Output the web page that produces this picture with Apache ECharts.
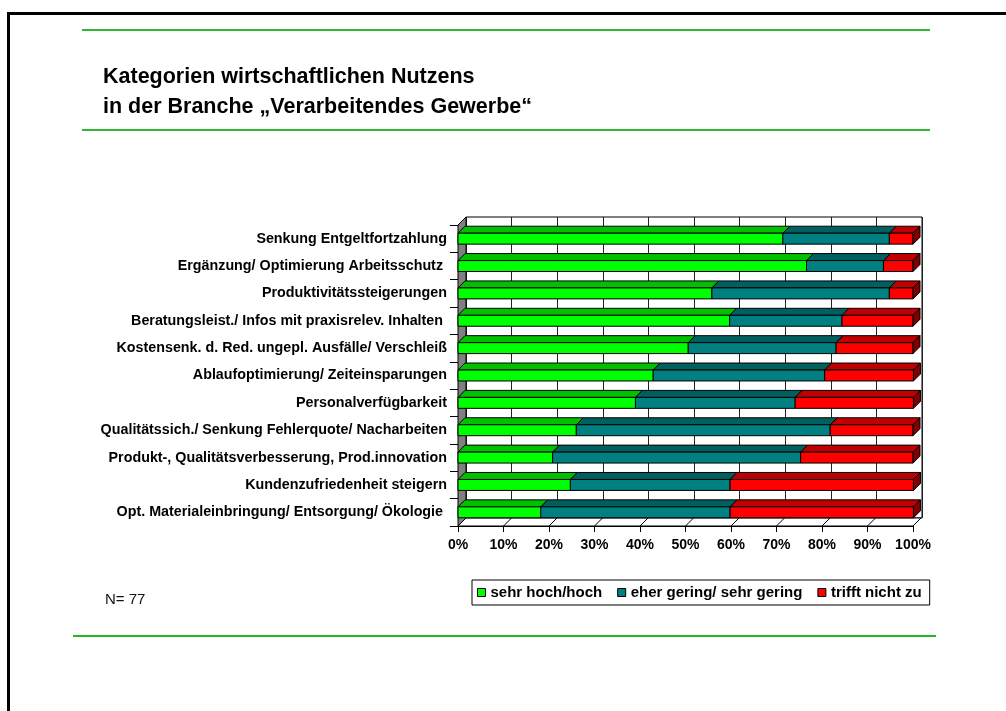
<!DOCTYPE html>
<html>
<head>
<meta charset="utf-8">
<script src="https://cdn.jsdelivr.net/npm/echarts@6/dist/echarts.min.js"></script>
<style>
  html, body { margin: 0; padding: 0; background: #fff; }
  #chart { width: 1006px; height: 711px; }
</style>
</head>
<body>
<div id="chart"></div>
<script>
var categories = [
  'Senkung Entgeltfortzahlung',
  'Ergänzung/ Optimierung Arbeitsschutz ',
  'Produktivitätssteigerungen',
  'Beratungsleist./ Infos mit praxisrelev. Inhalten ',
  'Kostensenk. d. Red. ungepl. Ausfälle/ Verschleiß',
  'Ablaufoptimierung/ Zeiteinsparungen',
  'Personalverfügbarkeit',
  'Qualitätssich./ Senkung Fehlerquote/ Nacharbeiten',
  'Produkt-, Qualitätsverbesserung, Prod.innovation',
  'Kundenzufriedenheit steigern',
  'Opt. Materialeinbringung/ Entsorgung/ Ökologie '
]
var hochValues = [71.4, 76.6, 55.8, 59.7, 50.6, 42.9, 39.0, 26.0, 20.8, 24.7, 18.2]
var geringValues = [23.4, 16.9, 39.0, 24.7, 32.5, 37.7, 35.1, 55.8, 54.5, 35.1, 41.6]
var nichtValues = [5.2, 6.5, 5.2, 15.6, 16.9, 19.5, 26.0, 18.2, 24.7, 40.3, 40.3]
var pctTicks = [0, 10, 20, 30, 40, 50, 60, 70, 80, 90, 100]

var seriesNames = ['sehr hoch/hoch', 'eher gering/ sehr gering', 'trifft nicht zu']
var frontColors = ['#00ff00', '#008080', '#ff0000']
var topColors = ['#00c000', '#006060', '#c00000']
var sideColors = ['#008000', '#004040', '#800000']

var DEPTH = 7
var WALL = 8
var font = 'Liberation Sans, Arial, sans-serif'

var chart = echarts.init(document.getElementById('chart'))

// stacked segments: [start, end, categoryIndex]
function buildStack(all) {
  var out = all.map(function () { return [] })
  categories.forEach(function (c, j) {
    var acc = 0
    all.forEach(function (vals, i) {
      out[i].push([acc, acc + vals[j], j])
      acc += vals[j]
    })
  })
  return out
}
var stacks = buildStack([hochValues, geringValues, nichtValues])

function barRenderer(idx) {
  return function (params, api) {
    var s = api.coord([api.value(0), api.value(2)])
    var e = api.coord([api.value(1), api.value(2)])
    var h = api.size([0, 1])[1] * 0.4
    var x0 = s[0], x1 = e[0]
    var yT = s[1] - h / 2, yB = s[1] + h / 2
    var stroke = { stroke: '#000', lineWidth: 1 }
    var children = [
      {
        type: 'polygon',
        shape: { points: [[x0, yT], [x1, yT], [x1 + DEPTH, yT - DEPTH], [x0 + DEPTH, yT - DEPTH]] },
        style: Object.assign({ fill: topColors[idx] }, stroke)
      },
      {
        type: 'rect',
        shape: { x: x0, y: yT, width: x1 - x0, height: yB - yT },
        style: Object.assign({ fill: frontColors[idx] }, stroke)
      }
    ]
    if (idx === 2) {
      children.push({
        type: 'polygon',
        shape: { points: [[x1, yT], [x1 + DEPTH, yT - DEPTH], [x1 + DEPTH, yB - DEPTH], [x1, yB]] },
        style: Object.assign({ fill: sideColors[idx] }, stroke)
      })
    }
    return { type: 'group', children: children }
  }
}

// left side wall + floor of the 3d plot
function renderWalls(params, api) {
  var cs = params.coordSys
  var left = cs.x, top = cs.y, bottom = cs.y + cs.height, right = cs.x + cs.width
  var children = [
    {
      type: 'polygon',
      shape: { points: [[left, bottom], [left, top], [left + WALL, top - WALL], [left + WALL, bottom - WALL]] },
      style: { fill: '#808080', stroke: '#000', lineWidth: 1 }
    },
    {
      type: 'polygon',
      shape: { points: [[left, bottom], [right, bottom], [right + WALL, bottom - WALL], [left + WALL, bottom - WALL]] },
      style: { fill: '#fff', stroke: '#000', lineWidth: 1 }
    }
  ]
  pctTicks.forEach(function (v) {
    var x = api.coord([v, 0])[0]
    children.push({
      type: 'line',
      shape: { x1: x, y1: bottom, x2: x + WALL, y2: bottom - WALL },
      style: { stroke: '#000', lineWidth: 1 }
    })
  })
  return { type: 'group', children: children }
}

var series = [
  {
    name: 'walls',
    type: 'custom',
    xAxisIndex: 0,
    yAxisIndex: 0,
    renderItem: renderWalls,
    data: [[0, 0]],
    silent: true,
    z: 1
  }
]
seriesNames.forEach(function (name, i) {
  series.push({
    name: name,
    type: 'custom',
    xAxisIndex: 0,
    yAxisIndex: 0,
    renderItem: barRenderer(i),
    encode: { x: [0, 1], y: 2 },
    itemStyle: { color: frontColors[i] },
    data: stacks[i],
    z: 3
  })
})

chart.setOption({
  animation: false,
  backgroundColor: '#fff',
  title: {
    text: 'Kategorien wirtschaftlichen Nutzens\nin der Branche „Verarbeitendes Gewerbe“',
    left: 98,
    top: 57,
    textStyle: {
      fontFamily: font,
      fontSize: 21.5,
      fontWeight: 'bold',
      color: '#000',
      lineHeight: 30
    }
  },
  legend: {
    data: seriesNames.map(function (n, i) {
      return { name: n, icon: 'rect', itemStyle: { color: frontColors[i], borderColor: '#000', borderWidth: 1 } }
    }),
    left: 472,
    top: 580,
    orient: 'horizontal',
    itemWidth: 8,
    itemHeight: 8,
    itemGap: 15,
    padding: [5, 8, 5, 5],
    borderColor: '#000',
    borderWidth: 1,
    textStyle: { fontFamily: font, fontSize: 15, fontWeight: 'bold', color: '#000' }
  },
  grid: [
    // front axes
    { left: 458, right: 93, top: 225, bottom: 185, containLabel: false },
    // back wall
    {
      left: 466, right: 84, top: 217, bottom: 193, show: true,
      backgroundColor: '#fff', borderColor: '#000', borderWidth: 1
    }
  ],
  xAxis: [
    {
      gridIndex: 0,
      type: 'value',
      min: 0,
      max: 100,
      interval: 10,
      axisLine: { show: true, lineStyle: { color: '#000', width: 1 } },
      axisTick: { show: true, length: 6, lineStyle: { color: '#000' } },
      splitLine: { show: false },
      axisLabel: {
        formatter: '{value}%',
        margin: 12,
        fontFamily: font,
        fontSize: 14,
        fontWeight: 'bold',
        color: '#000'
      }
    },
    {
      gridIndex: 1,
      type: 'value',
      min: 0,
      max: 100,
      interval: 10,
      axisLine: { show: false },
      axisTick: { show: false },
      axisLabel: { show: false },
      splitLine: { show: true, lineStyle: { color: '#222', width: 1 } }
    }
  ],
  yAxis: [
    {
      gridIndex: 0,
      type: 'category',
      data: categories,
      inverse: true,
      axisLine: { show: true, lineStyle: { color: '#000', width: 1 } },
      axisTick: { show: true, length: 8, lineStyle: { color: '#000' } },
      splitLine: { show: false },
      axisLabel: {
        margin: 11,
        fontFamily: font,
        fontSize: 14.3,
        fontWeight: 'bold',
        color: '#000'
      }
    },
    {
      gridIndex: 1,
      type: 'value',
      show: false,
      splitLine: { show: false }
    }
  ],
  graphic: [
    // page frame (left and top edges)
    { type: 'line', shape: { x1: 8.5, y1: 13, x2: 8.5, y2: 711 }, style: { stroke: '#000', lineWidth: 3 } },
    { type: 'line', shape: { x1: 7, y1: 13.5, x2: 1006, y2: 13.5 }, style: { stroke: '#000', lineWidth: 3 } },
    // green rules
    { type: 'line', shape: { x1: 82, y1: 30, x2: 930, y2: 30 }, style: { stroke: '#33b533', lineWidth: 2 } },
    { type: 'line', shape: { x1: 82, y1: 130, x2: 930, y2: 130 }, style: { stroke: '#33b533', lineWidth: 2 } },
    { type: 'line', shape: { x1: 73, y1: 636, x2: 936, y2: 636 }, style: { stroke: '#22b822', lineWidth: 2 } },
    {
      type: 'text',
      left: 105,
      top: 592,
      style: { text: 'N= 77', font: '15px ' + font, fill: '#111' }
    }
  ],
  series: series
})
</script>
</body>
</html>
